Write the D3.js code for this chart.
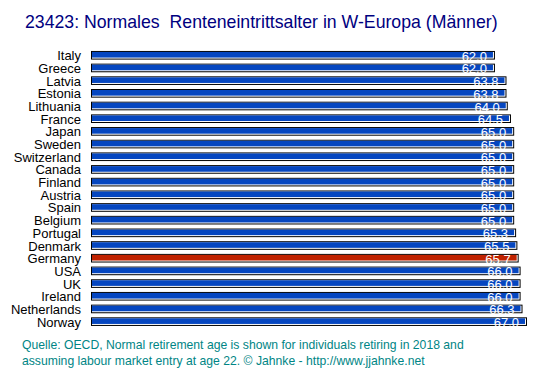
<!DOCTYPE html>
<html>
<head>
<meta charset="utf-8">
<script src="https://cdn.jsdelivr.net/npm/d3@7"></script>
<style>
body { margin: 0; background: #fff; }
text { font-family: Arial, "Liberation Sans", sans-serif; }
</style>
</head>
<body>
<div id="chart"></div>
<script>
// data
var countries = ["Italy", "Greece", "Latvia", "Estonia", "Lithuania", "France", "Japan", "Sweden",
    "Switzerland", "Canada", "Finland", "Austria", "Spain", "Belgium", "Portugal", "Denmark",
    "Germany", "USA", "UK", "Ireland", "Netherlands", "Norway"];
var ages = [62.0, 62.0, 63.8, 63.8, 64.0, 64.5, 65.0, 65.0, 65.0, 65.0, 65.0, 65.0, 65.0, 65.0,
    65.3, 65.5, 65.7, 66.0, 66.0, 66.0, 66.3, 67.0];
var highlight = "Germany";

var titleText = "23423: Normales  Renteneintrittsalter in W-Europa (M\u00e4nner)";
var footLines = ["Quelle: OECD, Normal retirement age is shown for individuals retiring in 2018 and",
    "assuming labour market entry at age 22. \u00a9 Jahnke - http://www.jjahnke.net"];

var width = 553, height = 376;

var svg = d3.select("#chart")
    .append("svg")
    .attr("width", width)
    .attr("height", height);

var rows = countries.map(function(c, i) { return {country: c, age: ages[i]}; });

// scales
var x = d3.scaleLinear()
    .domain([-1, 67])
    .range([91, 527]);

var y = d3.scaleBand()
    .domain(countries)
    .range([46.9, 330])
    .padding(0.32);

// title
svg.append("text")
    .attr("x", 25)
    .attr("y", 28)
    .attr("fill", "#000080")
    .style("font-size", "17.7px")
    .style("white-space", "pre")
    .text(titleText);

// country labels
svg.selectAll(".cat")
    .data(rows)
    .enter()
    .append("text")
    .attr("class", "cat")
    .attr("x", 81)
    .attr("y", function(d) { return y(d.country) + y.bandwidth() / 2 + 5; })
    .attr("text-anchor", "end")
    .style("font-size", "13px")
    .attr("fill", "#000")
    .text(function(d) { return d.country; });

var bars = svg.selectAll(".bar")
    .data(rows)
    .enter()
    .append("g")
    .attr("class", "bar");

// black outline
bars.append("rect")
    .attr("x", x(-1))
    .attr("y", function(d) { return y(d.country); })
    .attr("width", function(d) { return x(d.age) - x(-1); })
    .attr("height", y.bandwidth())
    .attr("fill", "#000");

// white inner line
bars.append("rect")
    .attr("x", x(-1) + 1)
    .attr("y", function(d) { return y(d.country) + 1; })
    .attr("width", function(d) { return x(d.age) - x(-1) - 2; })
    .attr("height", y.bandwidth() - 2)
    .attr("fill", "#fff");

// fill
bars.append("rect")
    .attr("x", x(-1) + 1)
    .attr("y", function(d) { return y(d.country) + 1; })
    .attr("width", function(d) { return x(d.age) - x(-1) - 3; })
    .attr("height", y.bandwidth() - 3)
    .attr("fill", function(d) { return d.country == highlight ? "#c02200" : "#0546c0"; });

// value labels
bars.append("text")
    .attr("x", function(d) { return x(d.age) - 8; })
    .attr("y", function(d) { return y(d.country) + y.bandwidth() / 2 + 5.5; })
    .attr("text-anchor", "end")
    .style("font-size", "13px")
    .attr("fill", "#fff")
    .text(function(d) { return d.age.toFixed(1); });

// source
svg.selectAll(".foot")
    .data(footLines)
    .enter()
    .append("text")
    .attr("class", "foot")
    .attr("x", 22)
    .attr("y", function(d, i) { return 349 + i * 16; })
    .attr("fill", "#008585")
    .style("font-size", "12.2px")
    .text(function(d) { return d; });
</script>
</body>
</html>
